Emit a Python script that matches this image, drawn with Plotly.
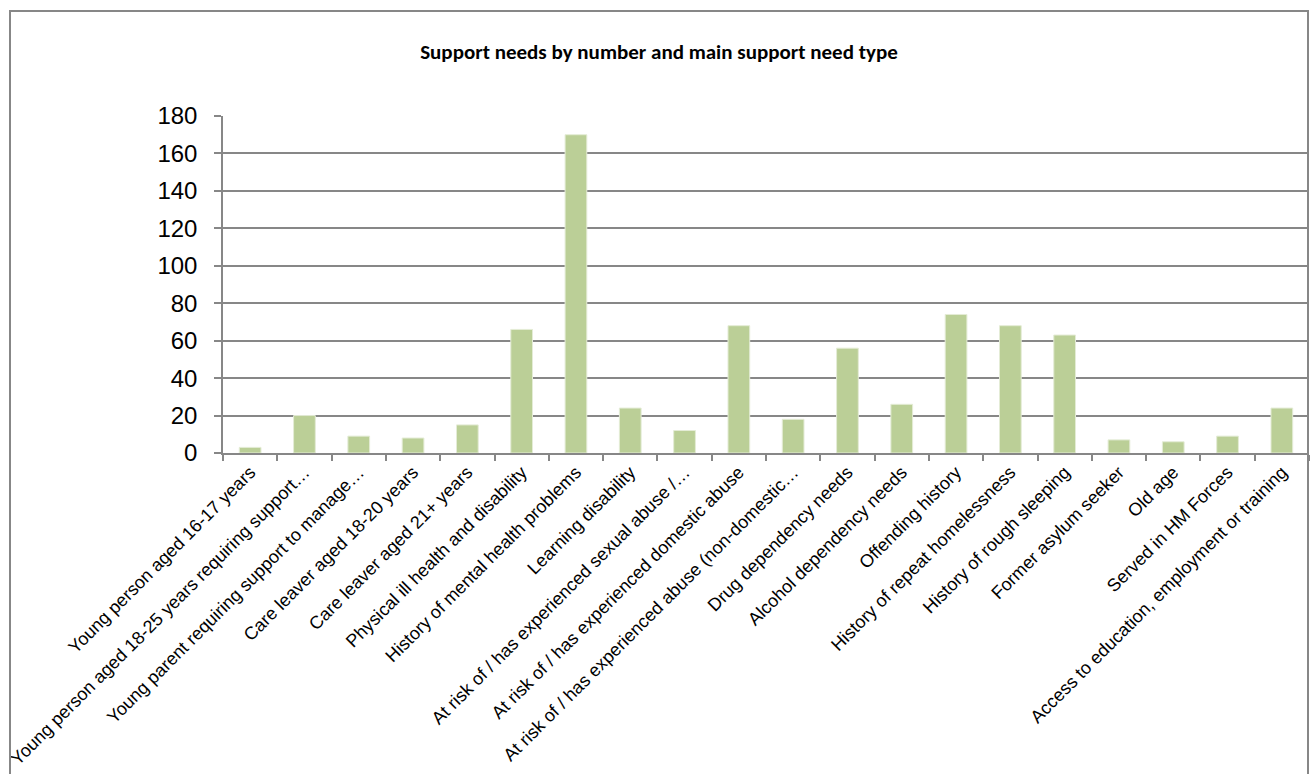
import plotly.graph_objects as go

categories = [
    "Young person aged 16-17 years",
    "Young person aged 18-25 years requiring support…",
    "Young parent requiring support to manage…",
    "Care leaver aged 18-20 years",
    "Care leaver aged 21+ years",
    "Physical ill health and disability",
    "History of mental health problems",
    "Learning disability",
    "At risk of / has experienced sexual abuse /…",
    "At risk of / has experienced domestic abuse",
    "At risk of / has experienced abuse (non-domestic…",
    "Drug dependency needs",
    "Alcohol dependency needs",
    "Offending history",
    "History of repeat homelessness",
    "History of rough sleeping",
    "Former asylum seeker",
    "Old age",
    "Served in HM Forces",
    "Access to education, employment or training",
]
values = [3, 20, 9, 8, 15, 66, 170, 24, 12, 68, 18, 56, 26, 74, 68, 63, 7, 6, 9, 24]
y_ticks = [0, 20, 40, 60, 80, 100, 120, 140, 160, 180]
title_text = "Support needs by number and main support need type"

W, H = 1314, 774
L, R, T, B = 223, 5, 116, 318
plot_w = W - L - R
plot_h = H - T - B
grey = "#878787"

fig = go.Figure(
    go.Bar(
        x=categories,
        y=values,
        marker=dict(color="#BBCF97", line=dict(color="#E4ECD6", width=1)),
        hoverinfo="x+y",
    )
)

fig.update_layout(
    width=W,
    height=H,
    margin=dict(l=L, r=R, t=T, b=B, pad=0),
    paper_bgcolor="white",
    plot_bgcolor="white",
    bargap=0.6,
    showlegend=False,
    title=dict(
        text=title_text,
        x=0.5015,
        xref="container",
        xanchor="center",
        y=1 - 52 / H,
        yref="container",
        yanchor="middle",
        font=dict(family="Carlito, Calibri, Lato, sans-serif", size=21, color="black", weight="bold"),
    ),
    font=dict(family="Liberation Sans, Arial, sans-serif", color="black"),
)

fig.update_yaxes(
    range=[0, 180],
    tickvals=y_ticks,
    tickfont=dict(size=24, color="black"),
    showgrid=True,
    gridcolor=grey,
    gridwidth=1.5,
    showline=True,
    linecolor=grey,
    linewidth=1.5,
    ticks="outside",
    ticklen=7,
    tickcolor=grey,
    tickwidth=1.5,
    zeroline=False,
    ticklabelstandoff=12,
)

fig.update_xaxes(
    type="category",
    tickangle=-45,
    tickfont=dict(size=18, color="black"),
    showline=True,
    linecolor=grey,
    linewidth=1.5,
    ticks="outside",
    tickson="boundaries",
    ticklen=6,
    tickcolor=grey,
    tickwidth=1.5,
    showgrid=False,
)

# outer chart border (left, top, right; bottom lies outside the view)
def px_to_paper_x(px):
    return (px - L) / plot_w

def px_to_paper_y(py):
    return (H - B - py) / plot_h

fig.add_shape(
    type="rect",
    xref="paper",
    yref="paper",
    x0=px_to_paper_x(10),
    x1=px_to_paper_x(1308),
    y0=px_to_paper_y(790),
    y1=px_to_paper_y(10),
    line=dict(color=grey, width=2),
    fillcolor="rgba(0,0,0,0)",
    layer="above",
)

fig.write_html("out.html")
